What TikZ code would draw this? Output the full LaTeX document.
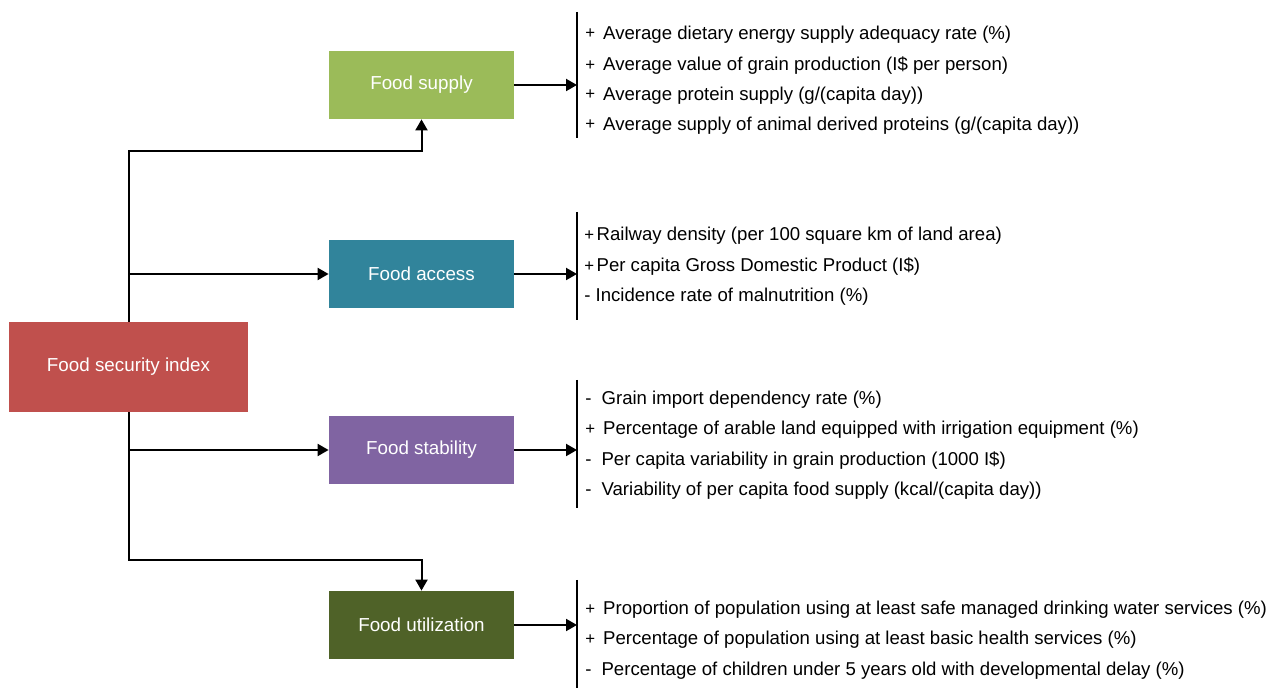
\documentclass[tikz,border=0pt]{standalone}
\usepackage{fontspec}
\setmainfont{Liberation Sans}
\usetikzlibrary{arrows.meta,positioning}

\definecolor{indexred}{HTML}{C0504D}
\definecolor{supplygreen}{HTML}{9BBB59}
\definecolor{accessteal}{HTML}{31849B}
\definecolor{stabpurple}{HTML}{8064A2}
\definecolor{utilgreen}{HTML}{4F6228}

% small sign in front of an indicator
\newcommand{\sgn}[1]{\raisebox{0.4pt}{\fontsize{8.4}{9}\selectfont#1}}

\begin{document}
\begin{tikzpicture}[
        x=0.5pt, y=-0.5pt,
        catbox/.style={minimum width=92.5pt, minimum height=34pt, text=white, font=\fontsize{9.4}{11}\selectfont, inner sep=0pt},
        indexbox/.style={fill=indexred, minimum width=119.5pt, minimum height=45pt, text=white, font=\fontsize{9.4}{11}\selectfont, inner sep=0pt},
        arrow/.style={-{Triangle[length=5.5pt,width=6pt]}, line width=1pt},
        bar/.style={line width=0.9pt},
        item/.style={anchor=west, inner sep=0pt, font=\fontsize{9.3}{11}\selectfont}
    ]
    \useasboundingbox (0,0) rectangle (1269,688);

    % main index and the four dimensions
    \node[indexbox] (index) at (128.5,367) {Food security index};
    \node[catbox, fill=supplygreen] (supply) at (421.5,85) {Food supply};
    \node[catbox, fill=accessteal] (access) at (421.5,274) {Food access};
    \node[catbox, fill=stabpurple] (stability) at (421.5,450) {Food stability};
    \node[catbox, fill=utilgreen] (utilization) at (421.5,625) {Food utilization};

    % indicator bars
    \coordinate (supplytop) at (577,12);
    \coordinate (supplybot) at (577,138);
    \coordinate (accesstop) at (577,212);
    \coordinate (accessbot) at (577,320);
    \coordinate (stabtop) at (577,380);
    \coordinate (stabbot) at (577,508);
    \coordinate (utiltop) at (577,580);
    \coordinate (utilbot) at (577,688);
    \draw[bar] (supplytop) -- (supplybot);
    \draw[bar] (accesstop) -- (accessbot);
    \draw[bar] (stabtop) -- (stabbot);
    \draw[bar] (utiltop) -- (utilbot);

    % tree from the index to the dimensions
    \coordinate (topbend) at (128.5,151);
    \coordinate (botbend) at (128.5,560);
    \draw[arrow] (index.north) -- (topbend) -| (supply.south);
    \draw[arrow] (index.south) -- (botbend) -| (utilization.north);
    \draw[arrow] (128.5,274) -- (access.west);
    \draw[arrow] (128.5,450) -- (stability.west);

    % dimensions to their indicators
    \draw[arrow] (supply.east) -- (supply.east -| supplytop);
    \draw[arrow] (access.east) -- (access.east -| accesstop);
    \draw[arrow] (stability.east) -- (stability.east -| stabtop);
    \draw[arrow] (utilization.east) -- (utilization.east -| utiltop);

    % supply indicators
    \node[item] (s1) at (585,35) {\sgn{+}\hspace{4pt}Average dietary energy supply adequacy rate (\%)};
    \node[item] (s2) at (585,66) {\sgn{+}\hspace{4pt}Average value of grain production (I\$ per person)};
    \node[item] (s3) at (585,96) {\sgn{+}\hspace{4pt}Average protein supply (g/(capita day))};
    \node[item] (s4) at (585,126) {\sgn{+}\hspace{4pt}Average supply of animal derived proteins (g/(capita day))};

    % access indicators
    \node[item] (a1) at (584,236) {\sgn{+}\hspace{1.2pt}Railway density (per 100 square km of land area)};
    \node[item] (a2) at (584,267) {\sgn{+}\hspace{1.2pt}Per capita Gross Domestic Product (I\$)};
    \node[item] (a3) at (584,297) {-\hspace{2.5pt}Incidence rate of malnutrition (\%)};

    % stability indicators
    \node[item] (t1) at (585,400) {-\hspace{5pt}Grain import dependency rate (\%)};
    \node[item] (t2) at (585,430) {\sgn{+}\hspace{4pt}Percentage of arable land equipped with irrigation equipment (\%)};
    \node[item] (t3) at (585,461) {-\hspace{5pt}Per capita variability in grain production (1000 I\$)};
    \node[item] (t4) at (585,491) {-\hspace{5pt}Variability of per capita food supply (kcal/(capita day))};

    % utilization indicators
    \node[item] (u1) at (585,610) {\sgn{+}\hspace{4pt}Proportion of population using at least safe managed drinking water services (\%)};
    \node[item] (u2) at (585,640) {\sgn{+}\hspace{4pt}Percentage of population using at least basic health services (\%)};
    \node[item] (u3) at (585,671) {-\hspace{5pt}Percentage of children under 5 years old with developmental delay (\%)};
\end{tikzpicture}
\end{document}
